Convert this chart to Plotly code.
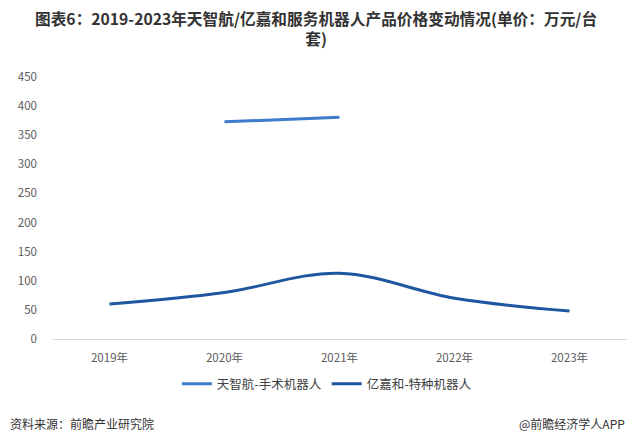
import plotly.graph_objects as go

years = ["2019年", "2020年", "2021年", "2022年", "2023年"]
tzh_values = [None, 373, 381, None, None]
yjh_values = [60, 80, 113, 70, 48]
tzh_name = "天智航-手术机器人"
yjh_name = "亿嘉和-特种机器人"
y_ticks = [0, 50, 100, 150, 200, 250, 300, 350, 400, 450]
title_line1 = "图表6：2019-2023年天智航/亿嘉和服务机器人产品价格变动情况(单价：万元/台"
title_line2 = "套)"

FONT = "Noto Sans CJK SC"

fig = go.Figure()
fig.add_trace(go.Scatter(x=years, y=tzh_values, name=tzh_name, mode="lines",
                         line=dict(color="#3d7ccc", width=3, shape="spline"),
                         connectgaps=False))
fig.add_trace(go.Scatter(x=years, y=yjh_values, name=yjh_name, mode="lines",
                         line=dict(color="#1f56a0", width=3, shape="spline", smoothing=1.0)))

# page body has an 8px margin: figure drawn at (8, 8)
fig.update_layout(
    width=627, height=438,
    paper_bgcolor="white", plot_bgcolor="white",
    margin=dict(l=44, r=8, t=69, b=107, autoexpand=False),
    font=dict(family=FONT, color="#595959", size=12),
    xaxis=dict(showgrid=False, showline=True, linecolor="#d9d9d9", linewidth=1,
               ticks="outside", ticklen=8, tickcolor="rgba(0,0,0,0)",
               tickfont=dict(size=11.5, color="#595959"), range=[-0.5, 4.5], automargin=False),
    yaxis=dict(range=[0, 450], tickvals=y_ticks, showgrid=False, zeroline=False,
               showline=False, tickfont=dict(size=11.5, color="#595959"),
               ticklabelstandoff=14, automargin=False),
    legend=dict(orientation="h", x=0.478, xanchor="center", y=-0.172, yanchor="middle",
                font=dict(size=12.5, color="#404040")),
    showlegend=True,
)

fig.add_annotation(text="<b>" + title_line1 + "<br>" + title_line2 + "</b>",
                   xref="paper", yref="paper", align="center",
                   x=0.459, y=1.184, xanchor="center", yanchor="middle", showarrow=False,
                   font=dict(size=15.7, color="#333333"))

fig.add_annotation(text="资料来源：前瞻产业研究院", xref="paper", yref="paper",
                   x=-0.076, y=-0.324, xanchor="left", yanchor="middle", showarrow=False,
                   font=dict(size=12, color="#333333"))
fig.add_annotation(text="@前瞻经济学人APP", xref="paper", yref="paper",
                   x=1.0, y=-0.324, xanchor="right", yanchor="middle", showarrow=False,
                   font=dict(size=12, color="#333333"))

fig.write_html("out.html")
